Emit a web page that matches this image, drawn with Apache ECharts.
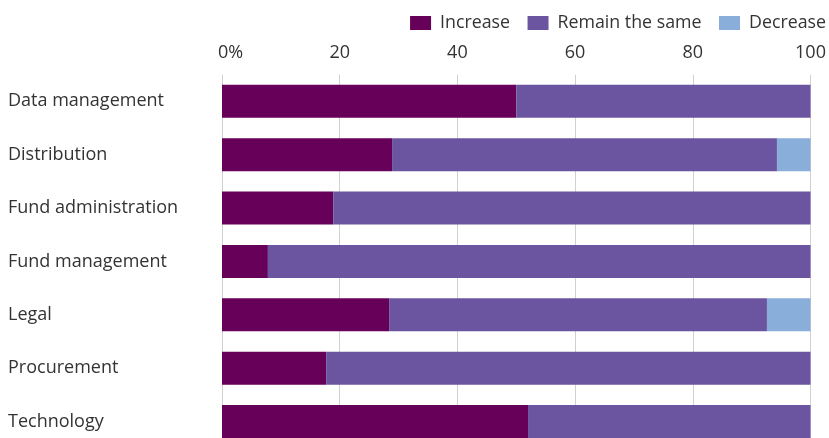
<!DOCTYPE html>
<html>
<head>
<meta charset="utf-8">
<script src="https://cdn.jsdelivr.net/npm/echarts@6/dist/echarts.min.js"></script>
<style>
html,body{margin:0;padding:0;background:#fff;overflow:hidden;}
#c{width:829px;height:449px;}
</style>
</head>
<body>
<div id="c"></div>
<script>
const categories = ["Data management","Distribution","Fund administration","Fund management","Legal","Procurement","Technology"];
const increase = [50, 28.9, 18.9, 7.8, 28.4, 17.7, 52];
const remain   = [50, 65.4, 81.1, 92.2, 64.2, 82.3, 48];
const decrease = [0, 5.7, 0, 0, 7.6, 0, 0];
const tickLabels = {0:"0%",20:"20",40:"40",60:"60",80:"80",100:"100"};

const FONT = "Open Sans";
const chart = echarts.init(document.getElementById('c'));
const mk = (name, data, color) => ({
  name, type: 'bar', stack: 'total', data, barWidth: 33,
  itemStyle: {color}, emphasis: {disabled: true}
});
chart.setOption({
  animation: false,
  textStyle: {fontFamily: FONT},
  legend: {
    right: -2, top: 9, itemWidth: 21, itemHeight: 14, itemGap: 17.5,
    icon: 'rect',
    textStyle: {fontFamily: FONT, fontSize: 17.8, color: '#333', padding: [0,0,0,4]},
    data: ['Increase','Remain the same','Decrease']
  },
  grid: {left: 222, right: 18.5, top: 74.6, bottom: 0.8},
  xAxis: {
    type: 'value', position: 'top', min: 0, max: 100, interval: 20,
    axisLine: {show: false}, axisTick: {show: false},
    splitLine: {show: true, lineStyle: {color: '#d0d0d0', width: 1}},
    axisLabel: {
      fontFamily: FONT, fontSize: 18, color: '#333', margin: 13,
      formatter: v => v === 0 ? '{z|0%}' : tickLabels[v],
      rich: {z: {fontFamily: FONT, fontSize: 18, color: '#333', padding: [0,0,0,17]}}
    }
  },
  yAxis: {
    type: 'category', data: categories, inverse: true,
    axisLine: {show: false}, axisTick: {show: false},
    axisLabel: {fontFamily: FONT, fontSize: 18, color: '#333', align: 'left', margin: 214}
  },
  series: [
    mk('Increase', increase, '#660059'),
    mk('Remain the same', remain, '#6c55a0'),
    mk('Decrease', decrease, '#88aed9')
  ]
});
</script>
</body>
</html>
